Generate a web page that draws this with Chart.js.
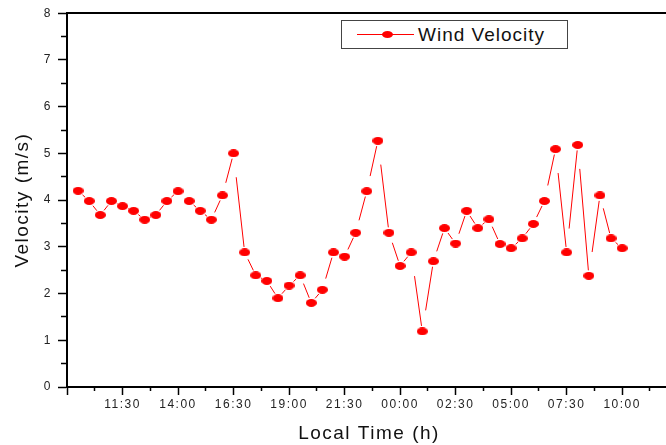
<!DOCTYPE html>
<html>
<head>
<meta charset="utf-8">
<title>Wind Velocity</title>
<script src="https://cdn.jsdelivr.net/npm/chart.js@4.4.0/dist/chart.umd.min.js"></script>
<style>
    html, body {
        margin: 0;
        padding: 0;
        background: #fff;
        overflow: hidden;
    }

    #wrap {
        position: relative;
        width: 677px;
        height: 445px;
    }

    /* Legend box, top right of the plot */
    #legend {
        position: absolute;
        left: 341px;
        top: 20px;
        width: 225px;
        height: 27px;
        border: 1px solid #444;
        background: #fff;
        font-family: "Liberation Sans", Arial, sans-serif;
    }

    #legend .seg {
        position: absolute;
        left: 15px;
        top: 13px;
        width: 57px;
        height: 1px;
        background: #ff0000;
    }

    #legend .dot {
        position: absolute;
        left: 40px;
        top: 10px;
        width: 11px;
        height: 7px;
        border-radius: 50%;
        background: #ff0000;
    }

    #legend .label {
        position: absolute;
        left: 76px;
        top: 0;
        line-height: 27px;
        font-size: 19px;
        letter-spacing: 1px;
        color: #111;
        white-space: nowrap;
    }
</style>
</head>
<body>
<div id="wrap">
    <canvas id="wind-chart" width="677" height="445"></canvas>
    <div id="legend">
        <span class="seg"></span>
        <span class="dot"></span>
        <span class="label">Wind Velocity</span>
    </div>
</div>

<script>
// ============================================
// Data
// ============================================

// half-hourly readings, 09:30 on day one to 10:00 the next day
const times = [
    '09:30', '10:00', '10:30', '11:00', '11:30', '12:00', '12:30', '13:00', '13:30', '14:00',
    '14:30', '15:00', '15:30', '16:00', '16:30', '17:00', '17:30', '18:00', '18:30', '19:00',
    '19:30', '20:00', '20:30', '21:00', '21:30', '22:00', '22:30', '23:00', '23:30', '00:00',
    '00:30', '01:00', '01:30', '02:00', '02:30', '03:00', '03:30', '04:00', '04:30', '05:00',
    '05:30', '06:00', '06:30', '07:00', '07:30', '08:00', '08:30', '09:00', '09:30', '10:00'
];

// wind velocity (m/s)
const velocity = [
    4.20, 3.98, 3.68, 3.98, 3.87, 3.77, 3.58, 3.68, 3.98, 4.19,
    3.98, 3.77, 3.58, 4.10, 5.00, 2.88, 2.39, 2.27, 1.90, 2.17,
    2.39, 1.80, 2.08, 2.88, 2.79, 3.30, 4.19, 5.27, 3.30, 2.59,
    2.88, 1.19, 2.69, 3.40, 3.07, 3.77, 3.40, 3.59, 3.06, 2.97,
    3.18, 3.49, 3.98, 5.09, 2.88, 5.18, 2.38, 4.10, 3.18, 2.97
];

// labelled x ticks, every 2.5 h from the 09:00 axis origin
const xTickLabels = ['11:30', '14:00', '16:30', '19:00', '21:30', '00:00', '02:30', '05:00', '07:30', '10:00'];
const yTickLabels = ['0', '1', '2', '3', '4', '5', '6', '7', '8'];

const X_START_HOUR = 9;     // axis origin is 09:00
const X_MAX = 27.2;         // axis runs past the right edge of the picture
const FONT = '"Liberation Sans", Arial, sans-serif';

// ============================================
// Helpers
// ============================================

// hours since 09:00 on day one, rolling over midnight
function toHours(list) {
    let prev = -Infinity;
    let dayOffset = 0;
    return list.map(t => {
        const [hh, mm] = t.split(':').map(Number);
        let h = hh + mm / 60 - X_START_HOUR + dayOffset;
        if (h < prev) {
            dayOffset += 24;
            h += 24;
        }
        prev = h;
        return h;
    });
}

function isMultiple(value, step) {
    const r = value / step;
    return Math.abs(r - Math.round(r)) < 1e-6;
}

// elliptic marker, wider than tall
function makeMarker() {
    const c = document.createElement('canvas');
    c.width = 11;
    c.height = 8;
    const g = c.getContext('2d');
    g.fillStyle = '#ff0000';
    g.beginPath();
    g.ellipse(5.5, 4, 5.5, 4, 0, 0, Math.PI * 2);
    g.fill();
    return c;
}

// Origin leaves a gap on the line at both symbols,
// wider where the segment leaves a point than where it arrives
function segmentGap(c) {
    const len = Math.hypot(c.p1.x - c.p0.x, c.p1.y - c.p0.y);
    const startGap = Math.min(24, Math.max(6, 0.3 * len));
    const endGap = 5.5;
    const drawn = len - startGap - endGap;
    return drawn > 0 ? [0, startGap, drawn, len + 20] : [0, len + 20];
}

const hours = toHours(times);
const points = hours.map((h, i) => ({ x: h, y: velocity[i] }));

// Origin-style spacing in the text
const letterSpacing = {
    id: 'letterSpacing',
    beforeDraw(chart) {
        chart.ctx.letterSpacing = '1.5px';
    }
};

// ============================================
// Chart
// ============================================

const ctx = document.getElementById('wind-chart').getContext('2d');

const chart = new Chart(ctx, {
    type: 'line',
    data: {
        datasets: [{
            label: 'Wind Velocity',
            data: points,
            borderColor: '#ff0000',
            backgroundColor: '#ff0000',
            borderWidth: 1,
            tension: 0,
            pointStyle: makeMarker(),
            pointRadius: 5,
            segment: {
                borderDash: segmentGap
            }
        }]
    },
    options: {
        responsive: false,
        animation: false,
        events: [],
        layout: {
            padding: { left: 0, right: 2, top: 0, bottom: 0 }
        },
        plugins: {
            legend: { display: false },
            tooltip: { enabled: false }
        },
        scales: {
            x: {
                type: 'linear',
                position: 'bottom',
                min: 0,
                max: X_MAX,
                border: { color: '#000', width: 2 },
                grid: {
                    drawOnChartArea: false,
                    tickLength: 8,
                    tickColor: '#000',
                    tickWidth: 1.5,
                    tickBorderDash: c => (c.tick && !isMultiple(c.tick.value, 2.5)) ? [3, 100] : []
                },
                ticks: {
                    stepSize: 1.25,
                    includeBounds: false,
                    autoSkip: false,
                    maxRotation: 0,
                    padding: 2,
                    color: '#222',
                    font: { family: FONT, size: 12 },
                    callback: value => {
                        if (!isMultiple(value, 2.5)) return '';
                        const idx = Math.round(value / 2.5) - 1;
                        return idx >= 0 && idx < xTickLabels.length ? xTickLabels[idx] : '';
                    }
                },
                title: {
                    display: true,
                    text: 'Local Time (h)',
                    color: '#111',
                    font: { family: FONT, size: 19 },
                    padding: { top: 0, bottom: 0 }
                },
                afterFit: scale => { scale.height = 58; }
            },
            xTop: {
                type: 'linear',
                position: 'top',
                min: 0,
                max: X_MAX,
                border: { color: '#000', width: 2 },
                grid: { drawOnChartArea: false, drawTicks: false },
                ticks: { display: false },
                afterFit: scale => { scale.height = 9; }
            },
            y: {
                min: 0,
                max: 8,
                border: { color: '#000', width: 2 },
                grid: {
                    drawOnChartArea: false,
                    tickLength: 9,
                    tickColor: '#000',
                    tickWidth: 1.5,
                    tickBorderDash: c => (c.tick && !Number.isInteger(c.tick.value)) ? [0, 3, 6, 100] : []
                },
                ticks: {
                    stepSize: 0.5,
                    padding: 6,
                    color: '#222',
                    font: { family: FONT, size: 12 },
                    callback: value => Number.isInteger(value) ? yTickLabels[value] : ''
                },
                title: {
                    display: true,
                    text: 'Velocity (m/s)',
                    color: '#111',
                    font: { family: FONT, size: 19 },
                    padding: { top: 11, bottom: 0 }
                },
                afterFit: scale => { scale.width = 67; }
            }
        }
    },
    plugins: [letterSpacing]
});
</script>
</body>
</html>
